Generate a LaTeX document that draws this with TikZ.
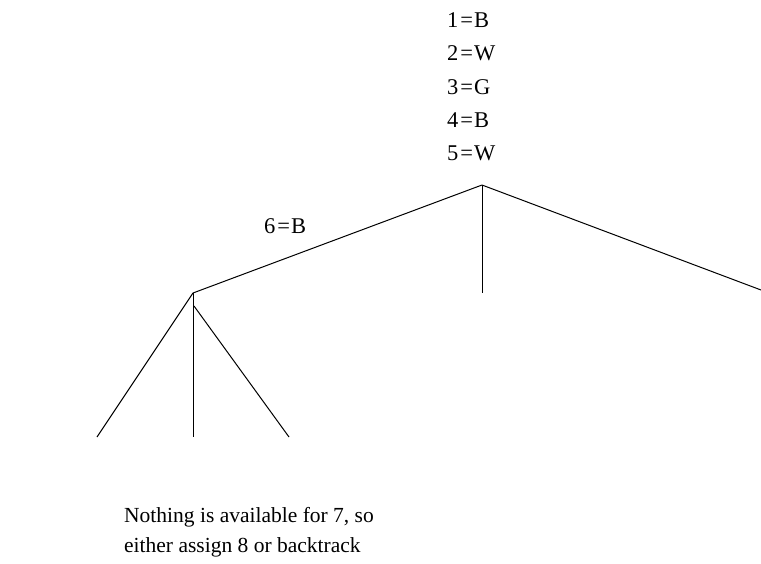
\documentclass[tikz,border=0pt]{standalone}
\usepackage{fontspec}
\setmainfont{Liberation Serif}
\newcommand{\eqlbl}[2]{#1\kern1.8pt=\kern1.2pt#2}
\begin{document}
\begin{tikzpicture}[x=1pt,y=-1pt,
  lbl/.style={anchor=base west,inner sep=0pt,font=\fontsize{22.5}{27}\selectfont},
  txt/.style={anchor=base west,inner sep=0pt,font=\fontsize{21.5}{26}\selectfont},
  edge/.style={draw=black,line width=1pt}]
\useasboundingbox (0,0) rectangle (761,563);
% tree points
\coordinate (root) at (482,185);
\coordinate (mid) at (482,293);
\coordinate (right) at (761,290);
\coordinate (left) at (193,293);
\coordinate (leftb) at (194,306);
\coordinate (l1) at (97,437);
\coordinate (l2) at (193,437);
\coordinate (l3) at (289,437);
\draw[edge] (root) -- (left);
\draw[edge] (root) -- (mid);
\draw[edge] (root) -- (right);
\draw[edge] (left) -- (l1);
\draw[edge] (left) -- (l2);
\draw[edge] (leftb) -- (l3);
% labels
\node[lbl] (a1) at (447,27) {\eqlbl{1}{B}};
\node[lbl] (a2) at (447,60.5) {\eqlbl{2}{W}};
\node[lbl] (a3) at (447,94) {\eqlbl{3}{G}};
\node[lbl] (a4) at (447,127) {\eqlbl{4}{B}};
\node[lbl] (a5) at (447,160) {\eqlbl{5}{W}};
\node[lbl] (a6) at (264,233) {\eqlbl{6}{B}};
\node[txt] (t1) at (124,522) {Nothing is available for 7, so};
\node[txt] (t2) at (124,552) {either assign 8 or backtrack};
\end{tikzpicture}
\end{document}
